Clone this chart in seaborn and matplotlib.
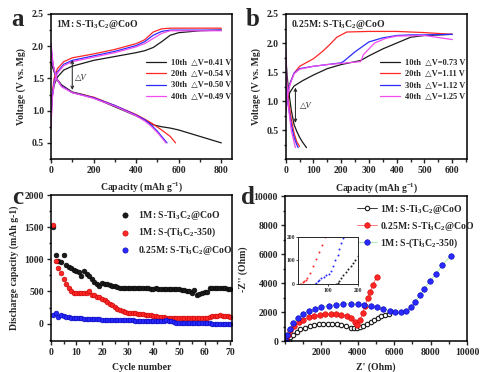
import matplotlib
matplotlib.use('Agg')
import matplotlib.pyplot as plt
import seaborn as sns
from matplotlib.ticker import MultipleLocator

# ---------------- panel a: 1M S-Ti3C2@CoO charge/discharge ----------------
a_chg_x = [0, 5, 15, 30, 60, 100, 200, 300, 400, 440, 480, 520, 560, 600, 700, 800]
a_chg_10 = [0.95, 1.2, 1.4, 1.52, 1.63, 1.69, 1.78, 1.84, 1.9, 1.93, 1.98, 2.07, 2.17, 2.21, 2.24, 2.25]
a_chg_20 = [0.75, 1.25, 1.5, 1.65, 1.76, 1.82, 1.88, 1.95, 2.04, 2.1, 2.22, 2.27, 2.28, 2.28, 2.28, 2.28]
a_chg_30 = [0.8, 1.2, 1.45, 1.6, 1.72, 1.78, 1.85, 1.92, 2.01, 2.07, 2.17, 2.23, 2.25, 2.25, 2.25, 2.25]
a_chg_40 = [0.7, 1.15, 1.42, 1.58, 1.7, 1.76, 1.83, 1.9, 1.99, 2.04, 2.12, 2.2, 2.24, 2.24, 2.24, 2.24]

a_dis_10_x = [0, 10, 25, 50, 100, 150, 200, 300, 400, 450, 480, 520, 560, 600, 700, 800]
a_dis_10 = [1.75, 1.65, 1.5, 1.4, 1.29, 1.25, 1.2, 1.06, 0.92, 0.84, 0.78, 0.75, 0.73, 0.7, 0.6, 0.5]
a_dis_20_x = [0, 10, 25, 50, 100, 200, 300, 400, 450, 480, 520, 560, 585]
a_dis_20 = [1.9, 1.7, 1.5, 1.38, 1.28, 1.21, 1.08, 0.94, 0.85, 0.79, 0.7, 0.6, 0.5]
a_dis_30_x = [0, 10, 25, 50, 100, 200, 300, 400, 440, 470, 500, 525, 545]
a_dis_30 = [2.0, 1.7, 1.5, 1.38, 1.28, 1.2, 1.08, 0.93, 0.86, 0.78, 0.68, 0.58, 0.5]
a_dis_40_x = [0, 10, 25, 50, 100, 200, 300, 400, 440, 470, 500, 525, 540]
a_dis_40 = [2.05, 1.72, 1.5, 1.37, 1.28, 1.19, 1.07, 0.92, 0.84, 0.76, 0.66, 0.56, 0.5]

a_labels = ['10th  \u25b3V=0.41 V', '20th  \u25b3V=0.54 V', '30th  \u25b3V=0.50 V', '40th  \u25b3V=0.49 V']

# ---------------- panel b: 0.25M S-Ti3C2@CoO ----------------
b_chg_10_x = [0, 5, 15, 30, 60, 100, 150, 200, 250, 270, 300, 350, 400, 450, 500, 600]
b_chg_10 = [0.85, 1.0, 1.15, 1.26, 1.35, 1.45, 1.56, 1.63, 1.68, 1.7, 1.78, 1.9, 2.0, 2.1, 2.13, 2.15]
b_chg_20_x = [0, 5, 15, 30, 50, 100, 136, 160, 184, 220, 300, 400, 500, 600]
b_chg_20 = [0.8, 1.05, 1.3, 1.48, 1.6, 1.73, 1.87, 1.98, 2.1, 2.19, 2.2, 2.2, 2.18, 2.15]
b_chg_30_x = [0, 5, 15, 30, 50, 100, 150, 200, 210, 250, 300, 350, 400, 450, 500, 600]
b_chg_30 = [0.9, 1.1, 1.3, 1.48, 1.56, 1.6, 1.63, 1.66, 1.69, 1.85, 2.02, 2.09, 2.13, 2.14, 2.14, 2.15]
b_chg_40_x = [0, 5, 15, 30, 50, 100, 150, 200, 270, 280, 320, 360, 400, 500, 600]
b_chg_40 = [0.85, 1.05, 1.28, 1.47, 1.55, 1.6, 1.63, 1.65, 1.68, 1.8, 2.0, 2.08, 2.12, 2.13, 2.06]

b_dis_10_x = [0, 5, 10, 20, 30, 40, 50, 60, 75]
b_dis_10 = [1.8, 1.45, 1.2, 0.85, 0.6, 0.48, 0.38, 0.3, 0.2]
b_dis_20_x = [0, 5, 10, 20, 30, 40, 50]
b_dis_20 = [1.5, 1.2, 1.0, 0.7, 0.45, 0.3, 0.22]
b_dis_30_x = [0, 5, 10, 20, 30, 40, 45]
b_dis_30 = [1.4, 1.1, 0.9, 0.6, 0.38, 0.25, 0.2]
b_dis_40_x = [0, 5, 10, 20, 30, 35]
b_dis_40 = [1.9, 1.2, 0.9, 0.5, 0.3, 0.2]

b_labels = ['10th  \u25b3V=0.73 V', '20th  \u25b3V=1.11 V', '30th  \u25b3V=1.12 V', '40th  \u25b3V=1.25 V']

# ---------------- panel c: cycling ----------------
cycles = list(range(1, 71))
c_black = [1500, 1070, 970, 960, 1065, 910, 880, 860, 840, 815,
           800, 740, 815, 765, 740, 700, 650, 610, 585, 635,
           620, 610, 600, 590, 580, 570, 560, 550, 550, 550,
           555, 550, 550, 552, 548, 550, 550, 548, 545, 545,
           548, 545, 545, 545, 540, 540, 540, 538, 535, 535,
           530, 520, 505, 500, 480, 530, 440, 460, 480, 485,
           490, 560, 555, 550, 550, 550, 548, 548, 545, 545]
c_red = [1540, 980, 870, 780, 700, 620, 560, 500, 480, 480,
         478, 478, 480, 480, 505, 440, 440, 420, 410, 390,
         370, 340, 310, 290, 260, 230, 210, 195, 180, 170,
         165, 160, 158, 155, 150, 145, 140, 135, 130, 120,
         115, 110, 105, 100, 95, 92, 90, 88, 86, 85,
         85, 85, 85, 85, 85, 85, 85, 85, 85, 85,
         90, 110, 115, 120, 125, 130, 125, 120, 115, 110]
c_blue = [130, 160, 100, 135, 120, 110, 100, 95, 90, 85,
          82, 80, 78, 76, 74, 72, 70, 68, 66, 64,
          62, 60, 58, 56, 55, 54, 53, 52, 51, 50,
          50, 49, 48, 47, 46, 45, 44, 43, 42, 40,
          40, 38, 38, 36, 55, 45, 40, 20, 15, 12,
          10, 10, 8, 8, 6, 6, 5, 5, 4, 4,
          3, 3, 2, 2, 1, 0, 0, -2, -3, -5]

# ---------------- panel d: Nyquist ----------------
d_black_x = [130, 200, 300, 450, 650, 850, 1100, 1350, 1600, 1850, 2100, 2350, 2600, 2850,
             3100, 3350, 3600, 3800, 3950, 4100, 4300, 4500, 4700, 4900, 5100, 5300, 5500, 5700]
d_black_y = [0, 100, 250, 450, 650, 800, 930, 1030, 1110, 1170, 1200, 1210, 1190, 1150,
             1090, 1010, 930, 890, 900, 950, 1060, 1200, 1350, 1480, 1600, 1700, 1800, 1880]
d_red_x = [10, 60, 150, 300, 500, 750, 1000, 1300, 1600, 1900, 2200, 2500, 2800, 3100, 3400,
           3650, 3850, 3966, 4130, 4270, 4400, 4540, 4680, 4830, 5040]
d_red_y = [0, 150, 400, 750, 1050, 1300, 1480, 1630, 1730, 1800, 1840, 1850, 1840, 1810, 1750,
           1600, 1350, 1090, 1450, 1950, 2450, 2950, 3400, 3850, 4450]
d_blue_x = [30, 100, 250, 450, 700, 1000, 1300, 1650, 2000, 2400, 2800, 3200, 3600, 4000, 4350,
            4700, 5050, 5400, 5750, 6050, 6350, 6650, 6900, 7150, 7400, 7650, 7950, 8300, 8650, 9100]
d_blue_y = [0, 400, 850, 1250, 1600, 1850, 2050, 2200, 2350, 2450, 2520, 2580, 2580, 2540, 2480,
            2400, 2320, 2220, 2100, 2000, 1980, 2080, 2350, 2700, 3150, 3600, 4150, 4650, 5250, 5900]

# inset (high-frequency region)
in_black_x = [128, 132, 138, 145, 152, 160, 168, 176, 184, 192, 200]
in_black_y = [0, 5, 15, 28, 40, 52, 65, 78, 90, 103, 118]
in_red_x = [5, 10, 15, 20, 25, 30, 40, 50, 60, 70, 80, 90]
in_red_y = [0, 3, 8, 14, 20, 28, 48, 75, 105, 135, 165, 198]
in_blue_x = [56, 60, 65, 70, 78, 86, 94, 102, 110, 118, 125, 132, 138, 145, 152]
in_blue_y = [0, 5, 12, 18, 25, 32, 38, 45, 55, 75, 100, 125, 148, 172, 196]

BLACK = '#1a1a1a'
RED = '#ff2626'
BLUE = '#2a2aff'
MAGENTA = '#f04cf0'

sns.set_style('ticks')
plt.rcParams['font.family'] = ['Liberation Serif', 'DejaVu Serif']
plt.rcParams['font.weight'] = 'bold'
plt.rcParams['axes.labelweight'] = 'bold'
plt.rcParams['mathtext.fontset'] = 'custom'
plt.rcParams['mathtext.rm'] = 'Liberation Serif:bold'
plt.rcParams['mathtext.it'] = 'Liberation Serif:italic:bold'
plt.rcParams['mathtext.bf'] = 'Liberation Serif:bold'
plt.rcParams['axes.linewidth'] = 1.1

FS = 7


def style(ax):
    ax.tick_params(which='both', direction='out', width=1, labelsize=FS, pad=2)
    ax.tick_params(which='major', length=3)
    ax.tick_params(which='minor', length=1.8)
    for s in ax.spines.values():
        s.set_color('black')
    ax.xaxis.label.set_size(FS)
    ax.yaxis.label.set_size(FS)


fig = plt.figure(figsize=(4.93, 3.72), dpi=100)

# ---------- a ----------
ax = fig.add_axes([0.1034, 0.5726, 0.3671, 0.3898])
cols = [BLACK, RED, BLUE, MAGENTA]
chg = [a_chg_10, a_chg_20, a_chg_30, a_chg_40]
dis = [(a_dis_10_x, a_dis_10), (a_dis_20_x, a_dis_20), (a_dis_30_x, a_dis_30), (a_dis_40_x, a_dis_40)]
for c, y, (dx, dy), lab in zip(cols, chg, dis, a_labels):
    sns.lineplot(x=a_chg_x, y=y, ax=ax, color=c, lw=0.9, sort=False, estimator=None, label=lab)
    sns.lineplot(x=dx, y=dy, ax=ax, color=c, lw=0.9, sort=False, estimator=None)
ax.annotate('', xy=(100, 1.83), xytext=(100, 1.28),
            arrowprops=dict(arrowstyle='<->', color=BLACK, lw=0.7, mutation_scale=5))
ax.text(112, 1.48, '\u25b3V', fontsize=6, fontweight='normal', fontstyle='italic')
ax.text(0.03, 0.93, '1M: S-Ti$_3$C$_2$@CoO', transform=ax.transAxes, fontsize=FS, va='center')
ax.set_xlim(0, 850)
ax.set_ylim(0.25, 2.5)
ax.set_xticks([0, 200, 400, 600, 800])
ax.set_yticks([0.5, 1.0, 1.5, 2.0, 2.5])
ax.xaxis.set_minor_locator(MultipleLocator(100))
ax.yaxis.set_minor_locator(MultipleLocator(0.25))
ax.set_xlabel('Capacity (mAh g$^{-1}$)')
ax.set_ylabel('Voltage (V vs. Mg)')
ax.legend(loc='upper left', bbox_to_anchor=(0.5, 0.72), frameon=False, fontsize=6,
          handlelength=2.4, handletextpad=0.6, labelspacing=0.4, borderpad=0)
style(ax)

# ---------- b ----------
ax = fig.add_axes([0.5795, 0.5718, 0.3671, 0.3906])
chg = [(b_chg_10_x, b_chg_10), (b_chg_20_x, b_chg_20), (b_chg_30_x, b_chg_30), (b_chg_40_x, b_chg_40)]
dis = [(b_dis_10_x, b_dis_10), (b_dis_20_x, b_dis_20), (b_dis_30_x, b_dis_30), (b_dis_40_x, b_dis_40)]
for c, (cx, cy), (dx, dy), lab in zip(cols, chg, dis, b_labels):
    sns.lineplot(x=cx, y=cy, ax=ax, color=c, lw=0.9, sort=False, estimator=None, label=lab)
    sns.lineplot(x=dx, y=dy, ax=ax, color=c, lw=0.9, sort=False, estimator=None)
ax.annotate('', xy=(35, 1.28), xytext=(35, 0.58),
            arrowprops=dict(arrowstyle='<->', color=BLACK, lw=0.7, mutation_scale=5))
ax.text(52, 0.88, '\u25b3V', fontsize=6, fontweight='normal', fontstyle='italic')
ax.text(0.03, 0.93, '0.25M: S-Ti$_3$C$_2$@CoO', transform=ax.transAxes, fontsize=FS, va='center')
ax.set_xlim(0, 652)
ax.set_ylim(0.0, 2.5)
ax.set_xticks([0, 100, 200, 300, 400, 500, 600])
ax.set_yticks([0.5, 1.0, 1.5, 2.0, 2.5])
ax.xaxis.set_minor_locator(MultipleLocator(50))
ax.yaxis.set_minor_locator(MultipleLocator(0.25))
ax.set_xlabel('Capacity (mAh g$^{-1}$)')
ax.set_ylabel('Voltage (V vs. Mg)')
ax.legend(loc='upper left', bbox_to_anchor=(0.5, 0.72), frameon=False, fontsize=6,
          handlelength=2.4, handletextpad=0.6, labelspacing=0.4, borderpad=0)
style(ax)

# ---------- c ----------
ax = fig.add_axes([0.1028, 0.0833, 0.3684, 0.3925])
for y, c, e, lab in [(c_black, BLACK, '#000000', '1M: S-Ti$_3$C$_2$@CoO'),
                     (c_red, RED, '#c00000', '1M: S-(Ti$_3$C$_2$-350)'),
                     (c_blue, BLUE, '#0000b0', '0.25M: S-Ti$_3$C$_2$@CoO')]:
    sns.scatterplot(x=cycles, y=y, ax=ax, color=c, edgecolor=e, linewidth=0.4, s=12, label=lab)
ax.set_xlim(0, 70.8)
ax.set_ylim(-270, 2000)
ax.set_xticks(range(0, 71, 10))
ax.set_yticks([0, 500, 1000, 1500, 2000])
ax.xaxis.set_minor_locator(MultipleLocator(5))
ax.yaxis.set_minor_locator(MultipleLocator(250))
ax.set_xlabel('Cycle number')
ax.set_ylabel('Discharge capacity (mAh g-1)')
ax.legend(loc='upper left', bbox_to_anchor=(0.33, 0.94), frameon=False, fontsize=FS,
          handletextpad=0.3, labelspacing=0.45, borderpad=0, markerscale=1.1)
style(ax)

# ---------- d ----------
ax = fig.add_axes([0.5781, 0.0833, 0.3692, 0.3885])
sns.lineplot(x=d_black_x, y=d_black_y, ax=ax, color=BLACK, lw=0.6, marker='o', markersize=3.2,
             markerfacecolor='white', markeredgecolor=BLACK, markeredgewidth=0.8,
             sort=False, estimator=None, label='1M: S-Ti$_3$C$_2$@CoO')
sns.lineplot(x=d_red_x, y=d_red_y, ax=ax, color='#ff6060', lw=0.6, marker='o', markersize=4,
             markerfacecolor=RED, markeredgecolor='#d00000', markeredgewidth=0.4,
             sort=False, estimator=None, label='0.25M: S-Ti$_3$C$_2$@CoO')
sns.lineplot(x=d_blue_x, y=d_blue_y, ax=ax, color='#9ee89e', lw=0.6, marker='o', markersize=4,
             markerfacecolor=BLUE, markeredgecolor='#0000b0', markeredgewidth=0.4,
             sort=False, estimator=None, label='1M: S-(Ti$_3$C$_2$-350)')
ax.set_xlim(0, 10000)
ax.set_ylim(0, 10000)
ax.set_xticks([2000, 4000, 6000, 8000, 10000])
ax.set_yticks([0, 2000, 4000, 6000, 8000, 10000])
ax.xaxis.set_minor_locator(MultipleLocator(1000))
ax.yaxis.set_minor_locator(MultipleLocator(1000))
ax.set_xlabel("Z' (Ohm)")
ax.set_ylabel("-Z'' (Ohm)")
ax.legend(loc='upper left', bbox_to_anchor=(0.37, 0.99), frameon=False, fontsize=FS,
          handlelength=2.0, handletextpad=0.3, labelspacing=0.4, borderpad=0)
style(ax)

# inset
axi = fig.add_axes([0.6051, 0.2358, 0.1205, 0.1280])
sns.scatterplot(x=in_black_x, y=in_black_y, ax=axi, color=BLACK, s=2, linewidth=0)
sns.scatterplot(x=in_red_x, y=in_red_y, ax=axi, color=RED, s=2, linewidth=0)
sns.scatterplot(x=in_blue_x, y=in_blue_y, ax=axi, color=BLUE, s=2, linewidth=0)
axi.set_xlim(0, 200)
axi.set_ylim(0, 200)
axi.set_xticks([100, 200])
axi.set_yticks([0, 100, 200])
axi.tick_params(labelsize=4, length=1.5, width=0.6, pad=1)
for s in axi.spines.values():
    s.set_linewidth(0.7)

# panel letters
for lx, ly, t in [(18, 20, 'a'), (253, 20, 'b'), (18, 198, 'c'), (248, 198, 'd')]:
    fig.text(lx / 493, 1 - ly / 372, t, fontsize=18, fontweight='bold', ha='center', va='center')

fig.savefig('out.png', dpi=100)
